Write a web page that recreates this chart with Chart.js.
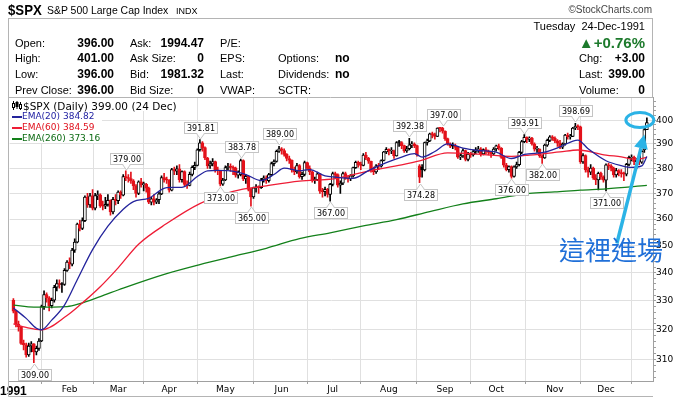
<!DOCTYPE html>
<html>
<head>
<meta charset="utf-8">
<title>$SPX Daily 1991</title>
<script src="https://cdn.jsdelivr.net/npm/chart.js"></script>
<style>
  body { margin: 0; background: #fff; color: #000; font-family: "Liberation Sans", Arial, sans-serif; }
  #wrap { position: relative; width: 680px; height: 397px; overflow: hidden; }
  #c { position: absolute; left: 0; top: 0; }
  .t { position: absolute; white-space: nowrap; font-size: 11px; line-height: 14px; }
  .v { font-weight: bold; font-size: 12px; }
  .nar { transform-origin: 0 50%; }
  .lg { position: absolute; white-space: nowrap; font-family: "DejaVu Sans", sans-serif; font-size: 9px; line-height: 11px; }
  .sw { position: absolute; left: 12px; width: 10px; height: 2px; }
</style>
</head>
<body>
<div id="wrap">
  <canvas id="c" width="680" height="397"></canvas>

  <div class="t nar" style="left:8px;top:2px;font-size:15px;line-height:16px;font-weight:bold;transform:scaleX(0.88)">$SPX</div>
  <div class="t nar" style="left:47px;top:3px;transform:scaleX(0.95)">S&amp;P 500 Large Cap Index</div>
  <div class="t" style="left:176px;top:4px;font-size:9px">INDX</div>
  <div class="t" style="right:28px;top:3px;font-size:10px;color:#444">©StockCharts.com</div>

  <div style="position:absolute;left:8px;top:18px;width:645px;height:80px;box-sizing:border-box;border:1px solid #b4b4b4;border-bottom:0"></div>
  <div class="t" style="right:35px;top:19px">Tuesday&nbsp; 24-Dec-1991</div>

  <div class="t" style="left:15px;top:36px">Open:</div>
  <div class="t v" style="right:566px;top:36px">396.00</div>
  <div class="t" style="left:130px;top:36px">Ask:</div>
  <div class="t v" style="right:476px;top:36px">1994.47</div>
  <div class="t" style="left:220px;top:36px">P/E:</div>
  <div class="t" style="right:35px;top:34px;font-size:15px;line-height:17px;font-weight:bold;color:#1d7a2c">▲+0.76%</div>

  <div class="t" style="left:15px;top:51px">High:</div>
  <div class="t v" style="right:566px;top:51px">401.00</div>
  <div class="t" style="left:130px;top:51px">Ask Size:</div>
  <div class="t v" style="right:476px;top:51px">0</div>
  <div class="t" style="left:220px;top:51px">EPS:</div>
  <div class="t" style="left:278px;top:51px">Options:</div>
  <div class="t v" style="left:335px;top:51px">no</div>
  <div class="t" style="left:579px;top:51px">Chg:</div>
  <div class="t v" style="right:35px;top:51px">+3.00</div>

  <div class="t" style="left:15px;top:67px">Low:</div>
  <div class="t v" style="right:566px;top:67px">396.00</div>
  <div class="t" style="left:130px;top:67px">Bid:</div>
  <div class="t v" style="right:476px;top:67px">1981.32</div>
  <div class="t" style="left:220px;top:67px">Last:</div>
  <div class="t" style="left:278px;top:67px">Dividends:</div>
  <div class="t v" style="left:335px;top:67px">no</div>
  <div class="t" style="left:579px;top:67px">Last:</div>
  <div class="t v" style="right:35px;top:67px">399.00</div>

  <div class="t" style="left:15px;top:83px">Prev Close:</div>
  <div class="t v" style="right:566px;top:83px">396.00</div>
  <div class="t" style="left:130px;top:83px">Bid Size:</div>
  <div class="t v" style="right:476px;top:83px">0</div>
  <div class="t" style="left:220px;top:83px">VWAP:</div>
  <div class="t" style="left:278px;top:83px">SCTR:</div>
  <div class="t" style="left:579px;top:83px">Volume:</div>
  <div class="t v" style="right:35px;top:83px">0</div>

  <!-- legend -->
  <div style="position:absolute;left:10px;top:98px;width:182px;height:13px;background:#fff"></div>
  <div style="position:absolute;left:10px;top:111px;width:92px;height:32px;background:#fff"></div>
  <svg width="10" height="9" style="position:absolute;left:12px;top:101px">
    <path d="M1.5 0V9M5 0V8M8.5 1V9" stroke="#000" stroke-width="1"/>
    <rect x="0.5" y="2.5" width="2" height="4" fill="#fff" stroke="#000"/>
    <rect x="4" y="1.5" width="2" height="4" fill="#000" stroke="#000"/>
    <rect x="7.5" y="3.5" width="2" height="4" fill="#fff" stroke="#000"/>
  </svg>
  <div class="lg" style="left:23px;top:100px;font-size:10.5px;line-height:12px">$SPX (Daily) 399.00 (24 Dec)</div>
  <div class="sw" style="top:116px;background:#24249c"></div>
  <div class="lg" style="left:22px;top:111px;color:#1c1ca0">EMA(20) 384.82</div>
  <div class="sw" style="top:127px;background:#ee1d36"></div>
  <div class="lg" style="left:22px;top:122px;color:#e0101c">EMA(60) 384.59</div>
  <div class="sw" style="top:138px;background:#13801a"></div>
  <div class="lg" style="left:22px;top:133px;color:#0b6a12">EMA(260) 373.16</div>

  <div class="t" style="left:559px;top:234px;font-size:26px;line-height:30px;color:#1f6fd8;font-family:'Noto Sans CJK TC','Noto Sans CJK SC',sans-serif">這裡進場</div>
</div>

<script>
// trading days of 1991, Jan 2 .. Dec 24 (index 0 .. 248)
const priorClose = 330.2;

const opens = [
  // Jan
  330.2,326.4,321.9,321.0,315.4,314.9,311.5,314.5,315.2,312.5,313.7,316.2,328.0,332.2,331.1,328.3,330.2,334.8,336.1,336.0,335.8,340.9,
  // Feb
  343.9,343.1,348.3,351.3,358.1,356.5,359.4,368.6,365.5,369.0,364.2,369.1,369.4,365.1,365.0,365.7,367.3,362.8,367.7,
  // Mar
  367.1,370.5,369.3,376.7,376.2,375.9,375.0,373.0,370.0,374.6,373.5,373.6,372.1,366.6,367.9,366.6,367.5,369.8,376.3,375.4,
  // Apr
  375.2,371.3,379.5,378.9,379.8,375.4,378.7,373.6,373.2,377.6,380.4,381.2,387.6,390.5,388.5,384.2,381.0,381.8,382.8,379.3,379.0,373.7,
  // May
  375.3,380.3,380.8,380.5,380.1,377.3,377.5,383.2,375.7,376.8,371.6,368.6,372.2,372.4,372.3,375.4,376.2,375.0,377.5,381.9,382.8,387.0,
  // Jun
  388.0,387.3,385.7,384.0,383.3,379.4,378.6,381.1,376.7,377.6,382.3,380.1,378.6,375.1,375.4,377.8,370.9,370.7,371.6,369.6,
  // Jul
  373.6,377.9,377.5,373.3,374.1,377.9,376.1,375.7,377.0,380.3,382.4,381.5,381.2,385.4,384.2,382.9,379.4,378.6,381.0,380.9,383.2,386.7,
  // Aug
  387.8,387.1,387.2,385.1,390.8,390.6,389.3,387.1,388.0,389.6,389.9,389.3,381.0,380.5,379.4,390.6,391.3,394.2,393.9,393.1,396.6,396.5,
  // Sep
  395.4,392.2,390.0,389.4,389.1,388.6,384.6,385.1,387.3,383.6,385.8,385.5,386.9,387.6,387.9,385.9,387.7,386.9,386.5,385.9,
  // Oct
  387.9,389.2,388.3,384.5,381.3,379.5,380.7,376.8,380.6,381.5,386.5,391.0,392.8,391.9,392.5,390.0,387.8,387.9,385.1,384.2,389.5,391.5,393.0,
  // Nov
  392.5,391.3,390.3,388.7,390.0,393.7,392.9,393.1,396.7,397.4,397.2,382.6,385.2,379.4,378.5,380.1,376.1,375.3,378.0,376.6,
  // Dec
  375.2,381.4,381.0,380.1,377.4,379.1,378.3,377.9,377.7,381.6,384.2,384.5,382.7,383.5,382.5,387.5,396.0
];
const highs = [
  330.8,326.8,323.0,321.2,316.5,315.5,315.5,316.0,315.3,314.5,317.0,328.5,333.5,332.8,331.5,331.0,335.5,337.5,337.5,336.5,341.5,344.5,
  345.5,349.0,352.5,358.5,359.5,360.5,369.0,370.0,370.0,371.5,370.0,371.0,369.8,367.0,368.5,369.5,367.5,368.5,369.5,
  371.0,371.0,377.5,379.0,377.5,378.5,375.5,373.5,375.0,376.0,374.5,374.0,372.5,368.5,369.5,368.0,370.5,377.0,378.0,376.5,
  375.5,380.0,380.5,381.0,381.5,379.0,379.0,375.0,378.5,381.0,382.5,388.0,391.81,391.0,388.8,384.5,383.0,384.0,383.0,380.5,379.2,376.0,
  381.0,382.0,381.8,381.0,380.5,379.0,383.78,383.5,377.5,377.0,372.0,372.5,373.5,373.0,376.0,377.0,377.0,378.0,382.5,383.5,387.5,389.0,
  388.5,388.0,386.0,385.0,383.5,380.5,382.0,381.5,378.5,383.0,382.5,381.0,379.0,376.5,378.5,378.0,372.0,372.5,372.0,374.0,
  378.5,378.5,377.8,375.0,378.5,378.5,377.0,377.5,380.5,383.0,383.0,382.5,386.0,386.5,384.5,383.0,380.5,381.5,382.0,383.5,387.0,388.5,
  388.0,388.5,387.5,391.0,391.5,391.0,389.5,389.0,392.38,391.0,390.5,389.5,381.5,381.5,390.8,392.0,394.5,395.0,394.5,396.8,396.9,397.0,
  395.5,392.5,390.5,390.5,390.0,389.0,386.0,388.0,387.5,386.5,386.5,387.5,388.5,389.0,388.5,388.0,388.5,387.5,387.0,388.5,
  389.5,390.0,388.5,385.0,382.0,381.0,381.0,381.0,382.5,387.0,391.5,393.91,393.0,393.0,392.8,390.5,389.0,388.0,385.5,390.0,392.0,393.5,393.5,
  393.0,391.8,391.5,390.5,394.0,394.5,394.0,397.0,398.69,398.0,397.5,386.0,385.5,380.5,381.5,380.5,377.5,378.5,378.5,377.0,
  381.8,382.0,381.5,380.5,380.0,379.5,379.5,378.5,382.0,385.0,385.5,385.0,384.0,384.0,387.5,396.5,401.0
];
const lows = [
  325.8,321.0,319.5,315.0,313.2,310.8,311.0,312.5,309.0,311.5,313.0,316.0,327.0,329.5,326.5,327.5,329.5,333.5,334.5,333.0,335.5,340.5,
  341.5,342.5,347.5,351.0,355.5,356.0,359.0,364.5,364.5,363.5,363.5,367.5,364.5,363.5,364.0,365.0,361.5,362.0,365.5,
  366.0,368.0,369.0,375.0,374.5,374.0,371.5,368.5,369.5,372.5,371.0,370.5,366.0,365.5,365.5,366.0,366.0,369.5,374.5,374.0,
  370.5,371.0,377.5,377.5,374.5,374.5,373.0,372.0,373.0,377.0,379.5,381.0,387.0,387.0,383.5,380.0,380.0,381.0,378.5,377.5,373.0,373.2,
  375.0,379.5,378.8,377.5,376.5,376.0,377.0,375.0,374.0,371.0,365.0,368.0,370.5,370.0,372.0,374.5,374.0,374.5,377.0,381.0,382.5,386.5,
  385.8,385.0,383.0,382.0,378.5,377.5,378.0,376.0,375.5,377.0,379.5,377.5,374.5,374.0,375.0,370.0,368.5,369.0,368.5,367.0,
  373.0,376.0,372.5,370.0,373.5,375.5,374.5,375.0,376.5,380.0,380.5,379.5,381.0,383.5,382.0,378.5,377.5,378.0,379.5,380.5,383.0,386.0,
  385.5,386.0,384.0,385.0,389.0,388.0,386.5,386.5,387.5,388.5,388.5,385.0,374.28,376.5,379.0,389.5,391.0,392.5,392.0,393.0,395.0,394.5,
  391.5,389.5,388.5,388.0,387.5,384.0,383.5,384.5,383.0,383.0,384.5,385.0,386.0,386.5,385.0,385.5,386.0,385.5,384.5,385.5,
  387.0,387.5,384.0,380.5,379.0,378.5,376.0,376.5,380.0,381.0,386.0,390.5,390.5,391.0,389.5,387.0,386.5,384.5,382.0,384.0,389.0,391.0,391.5,
  390.5,389.0,388.0,388.0,389.5,392.0,392.0,393.0,396.0,396.0,382.0,382.0,378.5,376.5,377.5,375.5,373.5,371.4,375.5,374.5,
  371.0,379.5,379.0,376.5,376.5,377.0,376.5,375.0,377.0,381.0,383.0,381.5,380.0,381.5,382.0,386.5,396.0
];
const closes = [
  326.4,321.9,321.0,315.4,314.9,311.5,314.5,315.2,312.5,313.7,316.2,328.0,332.2,331.1,328.3,330.2,334.8,336.1,335.8,335.8,340.9,343.9,
  343.1,348.3,351.3,358.1,356.5,359.4,368.6,365.5,369.0,364.2,369.1,369.4,365.1,365.0,365.7,367.3,362.8,367.7,367.1,
  370.5,369.3,376.7,376.2,375.9,375.0,373.0,370.0,374.6,373.5,373.6,372.1,366.6,367.9,366.6,367.5,369.8,376.3,375.4,375.2,
  371.3,379.5,378.9,379.8,375.4,378.7,373.6,373.2,377.6,380.4,381.2,387.6,390.5,388.5,384.2,381.0,381.8,382.8,379.3,379.0,373.7,375.3,
  380.3,380.8,380.5,380.1,377.3,378.5,383.2,375.7,376.8,371.6,368.6,372.2,372.4,372.3,375.4,376.2,375.0,377.5,381.9,382.8,387.0,388.0,
  387.3,385.7,384.0,383.3,379.4,378.6,381.1,376.7,377.6,382.3,380.1,378.6,375.1,375.4,377.8,370.9,370.7,371.6,369.6,373.6,
  377.9,377.5,373.3,374.1,377.9,376.1,375.7,377.0,380.3,382.4,381.5,381.2,385.4,384.2,382.9,379.4,378.6,381.0,380.9,383.2,386.7,387.8,
  387.1,387.2,385.1,390.6,390.6,389.3,387.1,388.0,389.6,389.9,389.3,385.6,376.5,379.4,390.6,391.3,394.2,393.9,393.1,396.6,396.5,395.4,
  392.2,390.0,389.1,389.1,388.6,384.6,385.1,387.3,383.6,385.8,385.5,386.9,387.6,387.9,385.9,387.7,386.9,386.5,385.9,387.9,
  389.2,388.3,384.5,381.3,379.5,380.7,376.8,380.6,381.5,386.5,391.0,392.8,391.9,392.5,390.0,387.8,387.9,385.1,384.2,389.5,391.5,393.0,392.5,
  391.3,390.3,388.7,390.0,393.7,392.9,393.1,396.7,397.4,397.2,382.6,385.2,379.4,378.5,380.1,376.1,375.3,378.0,376.6,375.2,
  381.4,381.0,380.1,377.4,379.1,378.3,377.9,377.7,381.6,384.5,384.5,382.7,383.5,382.5,387.0,396.0,399.0
];

// moving averages (day index, value)
const ema20Days = [0,5,9,11,15,20,25,31,37,43,47,53,60,66,72,76,80,85,91,97,102,106,112,116,122,126,133,139,146,152,157,160,165,170,176,182,189,195,200,208,214,221,225,232,238,242,246,248];
const ema20Vals = [327.5,323.9,320.5,320.0,323.3,328.5,337.5,348.5,357.3,363.8,366.8,368.1,372.3,372.4,376.7,379.0,379.2,379.0,377.5,375.1,377.5,380.1,379.0,379.5,377.0,376.5,376.0,379.1,382.3,384.6,386.0,384.6,386.9,390.0,388.3,387.3,386.6,384.0,385.7,386.6,388.8,391.6,388.0,383.1,381.1,380.4,381.0,384.82];
const ema60Days = [0,5,11,21,26,34,41,49,60,73,86,99,112,126,139,152,159,170,182,195,202,214,221,232,238,244,248];
const ema60Vals = [322.0,320.8,320.0,324.9,328.5,335.0,341.8,350.5,358.3,366.0,370.8,373.0,374.9,375.9,378.9,381.4,383.0,386.3,385.8,384.9,385.4,386.7,387.5,385.4,384.7,383.6,384.59];
const ema260Days = [0,8,21,26,34,43,60,73,86,99,112,124,137,150,163,176,189,202,212,222,232,248];
const ema260Vals = [328.5,327.8,328.0,329.0,331.5,334.5,339.7,343.0,346.0,349.0,352.6,354.8,357.4,359.8,362.9,365.9,367.9,370.0,370.6,371.3,371.8,373.16];

// swing high / low call-outs
const noteDays  = [8,44,73,81,89,93,104,124,155,159,168,195,200,207,220,232];
const noteSides = ['low','high','high','low','high','low','high','low','high','low','high','low','high','low','high','low'];

// axes
const monthStarts = [0,22,41,61,83,105,125,147,169,189,212,232];
const monthLabels = ['1991','Feb','Mar','Apr','May','Jun','Jul','Aug','Sep','Oct','Nov','Dec'];
const yLabels = [310,320,330,340,350,360,370,380,390,400];

const RED = '#e3121b';
const days = closes.map((c, i) => i);
const prevClose = i => i === 0 ? priorClose : closes[i - 1];
const candleColor = i => closes[i] < prevClose(i) ? RED : '#000';

const frame = {
  id: 'frame',
  beforeDatasetsDraw(chart) {
    const ctx = chart.ctx;
    const a = chart.chartArea;
    ctx.save();
    ctx.strokeStyle = '#b4b4b4';
    ctx.lineWidth = 1;
    ctx.beginPath();
    ctx.moveTo(8.5, a.top);
    ctx.lineTo(8.5, 396.5);
    ctx.lineTo(a.right, 396.5);
    ctx.moveTo(8, a.top + 0.5);
    ctx.lineTo(a.right, a.top + 0.5);
    ctx.stroke();
    ctx.restore();
  }
};

const notes = {
  id: 'notes',
  afterDatasetsDraw(chart) {
    const {ctx, scales} = chart;
    ctx.save();
    ctx.font = '8px "DejaVu Sans"';
    ctx.textAlign = 'center';
    ctx.textBaseline = 'middle';
    ctx.lineWidth = 1;
    noteDays.forEach((d, k) => {
      const up = noteSides[k] === 'high';
      const v = up ? highs[d] : lows[d];
      const px = Math.round(scales.x.getPixelForValue(d)) + 0.5;
      const py = Math.round(scales.y.getPixelForValue(v));
      const label = v.toFixed(2);
      const w = Math.ceil(ctx.measureText(label).width) + 5;
      const h = 11;
      const edge = up ? py - 6.5 : py + 6.5;
      const tip = up ? py - 1 : py + 1;
      const by = up ? edge - h : edge;
      const bx = Math.round(px - w / 2) + 0.5;
      ctx.fillStyle = '#fff';
      ctx.strokeStyle = '#c4c4c4';
      ctx.fillRect(bx, by, w, h);
      ctx.strokeRect(bx, by, w, h);
      ctx.beginPath();
      ctx.moveTo(px - 4, edge);
      ctx.lineTo(px, tip);
      ctx.lineTo(px + 4, edge);
      ctx.fill();
      ctx.stroke();
      ctx.fillRect(px - 3, edge - 0.5, 6, 1);
      ctx.fillStyle = '#000';
      ctx.fillText(label, bx + w / 2, by + h / 2 + 0.5);
    });
    ctx.restore();
  }
};

const entry = {
  id: 'entry',
  afterDraw(chart) {
    const {ctx, scales} = chart;
    const last = closes.length - 1;
    const lx = scales.x.getPixelForValue(last);
    const ly = scales.y.getPixelForValue(closes[last]);
    ctx.save();
    ctx.strokeStyle = '#2bb3e6';
    ctx.fillStyle = '#2bb3e6';
    ctx.lineWidth = 3;
    ctx.beginPath();
    ctx.ellipse(lx - 7, ly - 2.5, 14, 7.5, 0, 0, Math.PI * 2);
    ctx.stroke();
    // arrow
    const tx = lx - 2.5, ty = ly + 12, sx = lx - 30, sy = ly + 121;
    const ang = Math.atan2(ty - sy, tx - sx);
    const hx = tx - 14 * Math.cos(ang), hy = ty - 14 * Math.sin(ang);
    ctx.lineWidth = 3.5;
    ctx.beginPath();
    ctx.moveTo(sx, sy);
    ctx.lineTo(hx, hy);
    ctx.stroke();
    ctx.beginPath();
    ctx.moveTo(tx, ty);
    ctx.lineTo(hx + 7 * Math.sin(ang), hy - 7 * Math.cos(ang));
    ctx.lineTo(hx - 7 * Math.sin(ang), hy + 7 * Math.cos(ang));
    ctx.closePath();
    ctx.fill();
    ctx.restore();
  }
};

const emaLine = (xs, ys, color) => ({
  type: 'line',
  data: xs.map((d, k) => ({x: d, y: ys[k]})),
  borderColor: color,
  borderWidth: 1.3,
  pointRadius: 0,
  cubicInterpolationMode: 'monotone',
  fill: false
});

new Chart(document.getElementById('c'), {
  type: 'bar',
  data: {
    datasets: [
      emaLine(ema20Days, ema20Vals, '#24249c'),
      emaLine(ema60Days, ema60Vals, '#ee1d36'),
      emaLine(ema260Days, ema260Vals, '#13801a'),
      {
        type: 'bar',
        data: days.map(i => ({x: i, y: [opens[i], closes[i]]})),
        grouped: false,
        barThickness: 3,
        minBarLength: 1,
        borderWidth: 1,
        borderSkipped: false,
        borderColor: days.map(candleColor),
        backgroundColor: days.map(i => closes[i] < opens[i] ? candleColor(i) : '#fff')
      },
      {
        type: 'bar',
        data: days.map(i => ({x: i, y: [lows[i], highs[i]]})),
        grouped: false,
        barThickness: 1,
        borderWidth: 0,
        backgroundColor: days.map(candleColor)
      }
    ]
  },
  options: {
    responsive: false,
    animation: false,
    events: [],
    layout: { padding: { left: 9, top: 97, right: 7, bottom: 0 }, autoPadding: false },
    plugins: { legend: { display: false }, tooltip: { enabled: false } },
    scales: {
      x: {
        type: 'linear',
        min: -1.47,
        max: 250.4,
        offset: false,
        grid: { color: '#e0e0e0', tickColor: '#a0a0a0', tickLength: 3 },
        border: { color: '#a0a0a0' },
        ticks: {
          autoSkip: false,
          maxRotation: 0,
          padding: 0,
          color: '#000',
          font: c => c.tick && c.tick.value === 0
            ? { family: 'Liberation Sans', size: 12, weight: 'bold' }
            : { family: 'DejaVu Sans', size: 9 },
          callback: v => monthLabels[monthStarts.indexOf(v)]
        },
        afterBuildTicks: a => { a.ticks = monthStarts.map(v => ({ value: v })); },
        afterFit: a => { a.height = 16; }
      },
      y: {
        type: 'logarithmic',
        position: 'right',
        min: 303,
        max: 410,
        grid: {
          color: c => c.tick && yLabels.includes(c.tick.value) ? '#e0e0e0' : 'rgba(0,0,0,0)',
          tickColor: '#a0a0a0',
          tickLength: 3
        },
        border: { color: '#a0a0a0' },
        ticks: {
          autoSkip: false,
          padding: 0,
          color: '#000',
          font: { family: 'DejaVu Sans', size: 9 },
          callback: v => yLabels.includes(v) ? String(v) : ''
        },
        afterBuildTicks: a => {
          const t = [];
          for (let v = 304; v <= 408; v += 2) t.push({ value: v });
          a.ticks = t;
        },
        afterFit: a => { a.width = 20; }
      }
    }
  },
  plugins: [frame, notes, entry]
});
</script>
</body>
</html>
